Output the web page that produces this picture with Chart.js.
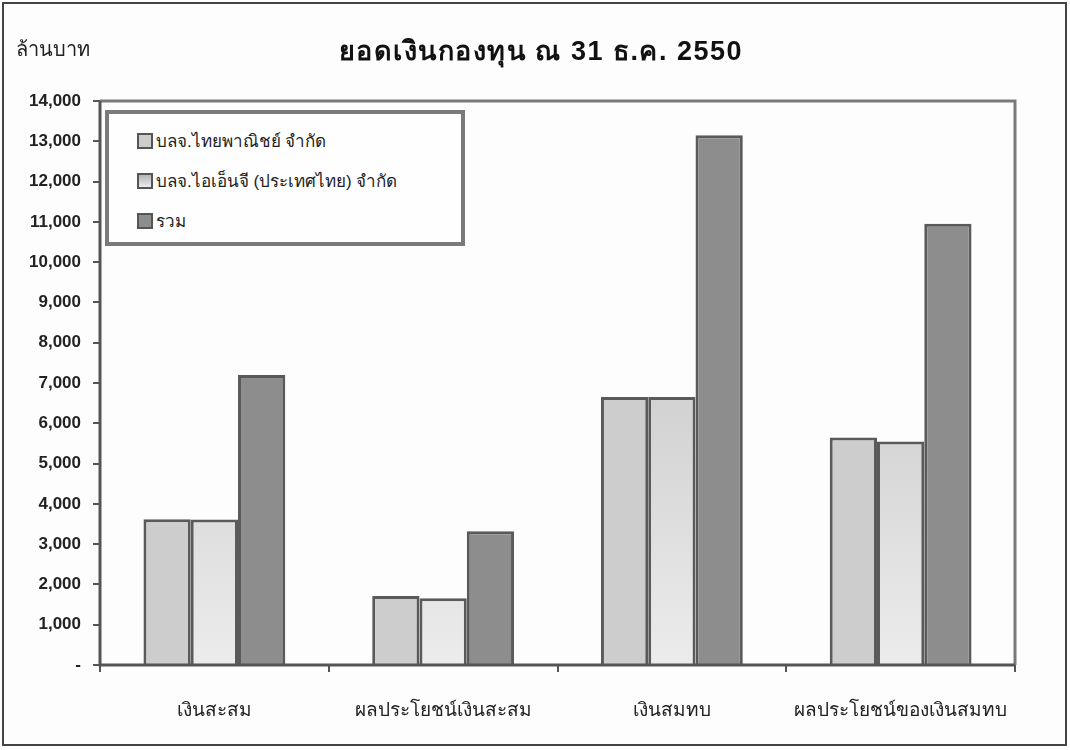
<!DOCTYPE html>
<html>
<head>
<meta charset="utf-8">
<script src="https://cdn.jsdelivr.net/npm/chart.js@4.4.0/dist/chart.umd.min.js"></script>
<style>
  html, body { margin: 0; padding: 0; background: #fdfdfd; }
  #wrap { position: relative; width: 1070px; height: 750px; }
  #legend {
    position: absolute; left: 105px; top: 110px; width: 352px; height: 128px;
    border: 4px solid #7a7a7a; background: #fefefe;
    font-family: "Liberation Sans", "Noto Sans", sans-serif; font-size: 17px; color: #222;
  }
  #legend .row { position: absolute; left: 28px; display: flex; align-items: center; }
  #legend .sw { width: 16px; height: 16px; border: 2px solid #555; margin-right: 3px; box-sizing: border-box; }
</style>
</head>
<body>
<div id="wrap">
  <canvas id="chart" width="1070" height="750"></canvas>
  <div id="legend"></div>
</div>
<script>
const categories = ['เงินสะสม', 'ผลประโยชน์เงินสะสม', 'เงินสมทบ', 'ผลประโยชน์ของเงินสมทบ'];
const seriesNames = ['บลจ.ไทยพาณิชย์ จำกัด', 'บลจ.ไอเอ็นจี (ประเทศไทย) จำกัด', 'รวม'];
const scbValues = [3620, 1710, 6650, 5650];
const ingValues = [3610, 1660, 6650, 5550];
const totalValues = [7200, 3320, 13150, 10950];
const yTicks = [0, 1000, 2000, 3000, 4000, 5000, 6000, 7000, 8000, 9000, 10000, 11000, 12000, 13000, 14000];
const chartTitle = 'ยอดเงินกองทุน ณ 31 ธ.ค. 2550';
const unitLabel = 'ล้านบาท';

const ctx = document.getElementById('chart').getContext('2d');

// soft vertical gradient for the second series
function ingFill(context) {
  const area = context.chart.chartArea;
  if (!area) return '#d8d8d8';
  const g = context.chart.ctx.createLinearGradient(0, area.top, 0, area.bottom);
  g.addColorStop(0, '#b4b4b4');
  g.addColorStop(1, '#ececec');
  return g;
}

const frame = {
  id: 'frame',
  afterDraw(chart) {
    const c = chart.ctx, a = chart.chartArea;
    c.save();
    c.strokeStyle = '#7a7a7a';
    c.lineWidth = 3;
    c.beginPath();
    c.moveTo(a.left, a.top);
    c.lineTo(a.right, a.top);
    c.lineTo(a.right, a.bottom);
    c.stroke();
    c.strokeStyle = '#555';
    c.beginPath();
    c.moveTo(a.left, a.top);
    c.lineTo(a.left, a.bottom);
    c.lineTo(a.right, a.bottom);
    c.stroke();
    // outer page border
    c.strokeStyle = '#444';
    c.lineWidth = 2;
    c.strokeRect(3, 3, 1063, 742);
    // title and unit label
    c.fillStyle = '#111';
    c.textBaseline = 'alphabetic';
    c.textAlign = 'center';
    c.font = 'bold 27px "Liberation Sans", "Noto Sans", sans-serif';
    c.letterSpacing = '1.5px';
    c.fillText(chartTitle, 541, 60);
    c.letterSpacing = '0px';
    c.textAlign = 'left';
    c.fillStyle = '#222';
    c.font = '20px "Liberation Sans", "Noto Sans", sans-serif';
    c.fillText(unitLabel, 16, 56);
    c.restore();
  }
};

new Chart(ctx, {
  type: 'bar',
  data: {
    labels: categories,
    datasets: [
      { label: seriesNames[0], data: scbValues, backgroundColor: '#cdcdcd' },
      { label: seriesNames[1], data: ingValues, backgroundColor: ingFill },
      { label: seriesNames[2], data: totalValues, backgroundColor: '#8d8d8d' }
    ]
  },
  options: {
    responsive: false,
    animation: false,
    categoryPercentage: 0.62,
    barPercentage: 1.0,
    borderColor: '#5a5a5a',
    borderWidth: 3,
    layout: { padding: { left: 0, right: 55, top: 101, bottom: 0 } },
    plugins: {
      legend: { display: false },
      tooltip: { enabled: false },
      title: { display: false }
    },
    scales: {
      x: {
        grid: { drawOnChartArea: false, drawTicks: true, tickLength: 7, color: '#555', lineWidth: 2 },
        border: { display: false },
        ticks: {
          color: '#222', padding: 27,
          font: { family: '"Liberation Sans", "Noto Sans", sans-serif', size: 19 }
        },
        afterFit(s) { s.height = 85; }
      },
      y: {
        min: 0, max: 14000,
        afterBuildTicks(s) { s.ticks = yTicks.map(v => ({ value: v })); },
        grid: { drawOnChartArea: false, drawTicks: true, tickLength: 7, color: '#555', lineWidth: 2 },
        border: { display: false },
        ticks: {
          color: '#222', padding: 12,
          font: { family: '"Liberation Sans", Arial, sans-serif', size: 17, weight: 'bold' },
          callback: v => v === 0 ? '-' : v.toLocaleString('en-US')
        },
        afterFit(s) { s.width = 100; }
      }
    }
  },
  plugins: [frame]
});

// legend box inside the plot
const legend = document.getElementById('legend');
const swatches = ['#cdcdcd', 'linear-gradient(#b4b4b4, #ececec)', '#8d8d8d'];
seriesNames.forEach((name, i) => {
  const row = document.createElement('div');
  row.className = 'row';
  row.style.top = (13 + i * 40) + 'px';
  row.innerHTML = '<div class="sw" style="background:' + swatches[i] + '"></div><span>' + name + '</span>';
  legend.appendChild(row);
});
</script>
</body>
</html>
